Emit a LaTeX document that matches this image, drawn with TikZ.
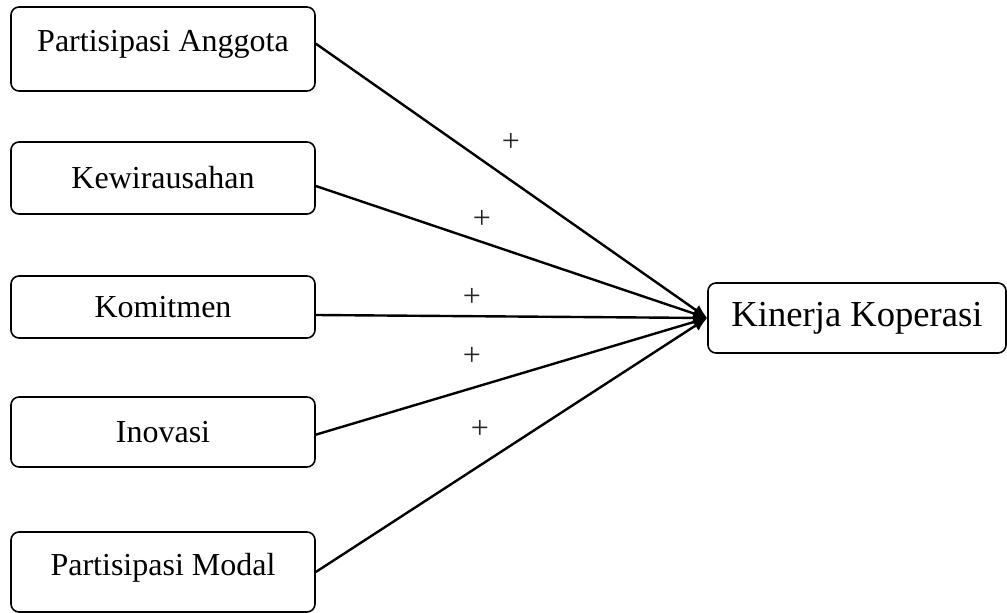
\documentclass[tikz,border=0pt]{standalone}
\usepackage{fontspec}
\setmainfont{Liberation Serif}
\usetikzlibrary{arrows.meta}

\begin{document}
\begin{tikzpicture}[x=0.5pt,y=-0.5pt,
  factor/.style={draw,line width=0.8pt,rounded corners=4pt,minimum width=152pt,font=\fontsize{16}{19}\selectfont},
  sign/.style={font=\fontsize{16}{19}\selectfont,text=black!85},
  link/.style={line width=1.2pt,-{Latex[length=7pt,width=6pt]}}]
\useasboundingbox (0,0) rectangle (1007,613);
\node[factor,minimum height=42pt,text depth=8pt] (anggota) at (163,49) {Partisipasi Anggota};
\node[factor,minimum height=36pt] (wira) at (163,178) {Kewirausahan};
\node[factor,minimum height=31pt] (komit) at (163,307) {Komitmen};
\node[factor,minimum height=35pt] (inov) at (163,432) {Inovasi};
\node[factor,minimum height=40pt,text depth=8pt] (modal) at (163,572) {Partisipasi Modal};
\node[draw,line width=0.8pt,rounded corners=4pt,minimum width=149pt,minimum height=35pt,font=\fontsize{18.3}{22}\selectfont] (kinerja) at (857,318) {Kinerja Koperasi};
\draw[link] (anggota.2.6) -- (kinerja.west);
\draw[link] (wira.-3.8) -- (kinerja.west);
\draw[link] (komit.-3.4) -- (kinerja.west);
\draw[link] (inov.-1.9) -- (kinerja.west);
\draw[link] (modal.0.7) -- (kinerja.west);
% plus signs
\node[sign] (s1) at (511,142) {+};
\node[sign] (s2) at (482,219) {+};
\node[sign] (s3) at (472,297) {+};
\node[sign] (s4) at (472,356) {+};
\node[sign] (s5) at (480,429) {+};
\end{tikzpicture}
\end{document}
